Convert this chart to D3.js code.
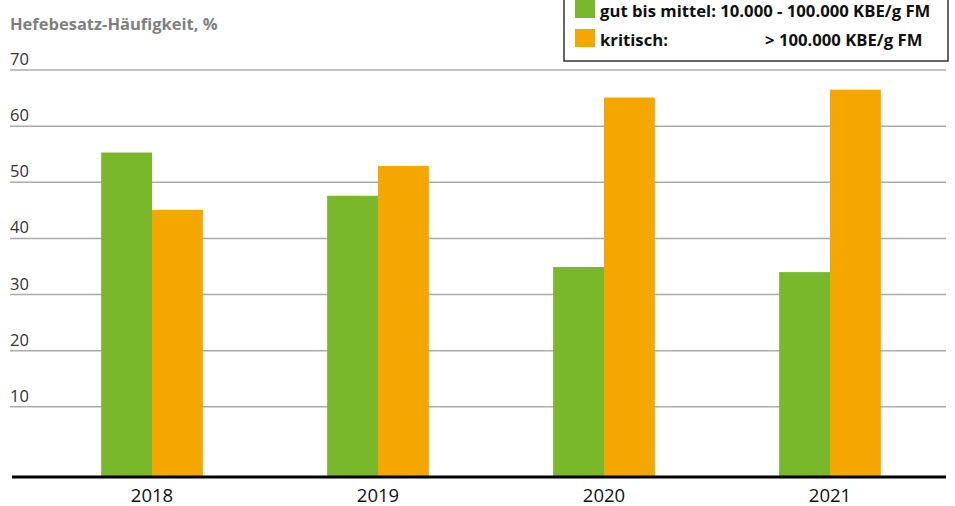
<!DOCTYPE html>
<html>
<head>
<meta charset="utf-8">
<script src="https://cdn.jsdelivr.net/npm/d3@7"></script>
<style>
  body { margin: 0; background: #fff; }
  text { font-family: "Open Sans", "Liberation Sans", sans-serif; }
</style>
</head>
<body>
<script>
const years = ['2018', '2019', '2020', '2021'];
const gutBisMittel = [55.3, 47.6, 34.9, 34.0];
const kritisch = [45.1, 52.9, 65.1, 66.5];
const yTicks = [10, 20, 30, 40, 50, 60, 70];
const seriesNames = ['gut bis mittel: 10.000 - 100.000 KBE/g FM', 'kritisch:'];
const kritischRange = '> 100.000 KBE/g FM';
const colors = ['#78b82a', '#f6a600'];

const width = 955;
const height = 506;

const svg = d3
  .select('body')
  .append('svg')
  .attr('width', width)
  .attr('height', height);

// y scale: 0 sits a bit above the black axis line
const y = d3.scaleLinear().domain([0, 70]).range([463, 70]);
const baseline = 477;

const x0 = d3
  .scaleBand()
  .domain(years)
  .range([39, 943])
  .paddingInner(0.55)
  .paddingOuter(0.275);

const x1 = d3
  .scaleBand()
  .domain([0, 1])
  .range([0, x0.bandwidth()]);

// grid lines
svg
  .append('g')
  .selectAll('line')
  .data(yTicks)
  .join('line')
  .attr('x1', 10)
  .attr('x2', 946)
  .attr('y1', (d) => y(d))
  .attr('y2', (d) => y(d))
  .attr('stroke', '#ababab')
  .attr('stroke-width', 1.5);

// tick labels
svg
  .append('g')
  .selectAll('text')
  .data(yTicks)
  .join('text')
  .attr('x', 10)
  .attr('y', (d) => y(d) - 5)
  .style('font-size', '16.5px')
  .style('fill', '#333')
  .text((d) => d);

// title
svg
  .append('text')
  .attr('x', 10)
  .attr('y', 30)
  .style('font-size', '16.5px')
  .style('font-weight', 'bold')
  .style('fill', '#7f7f7f')
  .text('Hefebesatz-Häufigkeit, %');

// bars
const rows = years.map((yr, i) => [gutBisMittel[i], kritisch[i]]);
svg
  .append('g')
  .selectAll('g')
  .data(rows)
  .join('g')
  .attr('transform', (d, i) => `translate(${x0(years[i])},0)`)
  .selectAll('rect')
  .data((d) => d.map((value, key) => ({ key, value })))
  .join('rect')
  .attr('x', (d) => x1(d.key))
  .attr('y', (d) => y(d.value))
  .attr('width', x1.bandwidth())
  .attr('height', (d) => baseline - y(d.value))
  .attr('fill', (d) => colors[d.key]);

// x axis line
svg
  .append('line')
  .attr('x1', 12)
  .attr('x2', 946)
  .attr('y1', baseline)
  .attr('y2', baseline)
  .attr('stroke', '#000')
  .attr('stroke-width', 3);

// year labels
svg
  .append('g')
  .selectAll('text')
  .data(years)
  .join('text')
  .attr('x', (d) => x0(d) + x0.bandwidth() / 2)
  .attr('y', 502)
  .attr('text-anchor', 'middle')
  .style('font-size', '18.5px')
  .style('fill', '#111')
  .text((d) => d);

// legend
const legend = svg.append('g');
legend
  .append('rect')
  .attr('x', 564)
  .attr('y', -5)
  .attr('width', 384)
  .attr('height', 66)
  .attr('fill', '#fff')
  .attr('stroke', '#333')
  .attr('stroke-width', 1.5);

legend
  .selectAll('rect.sw')
  .data(seriesNames)
  .join('rect')
  .attr('class', 'sw')
  .attr('x', 575)
  .attr('y', (d, i) => 0 + i * 29)
  .attr('width', 20)
  .attr('height', 18)
  .attr('fill', (d, i) => colors[i]);

legend
  .selectAll('text.lb')
  .data(seriesNames)
  .join('text')
  .attr('class', 'lb')
  .attr('x', 600)
  .attr('y', (d, i) => 17 + i * 28.5)
  .style('font-size', '16.7px')
  .style('font-weight', 'bold')
  .style('fill', '#111')
  .text((d) => d);

legend
  .append('text')
  .attr('x', 765)
  .attr('y', 45.5)
  .style('font-size', '16.7px')
  .style('font-weight', 'bold')
  .style('fill', '#111')
  .text(kritischRange);
</script>
</body>
</html>
